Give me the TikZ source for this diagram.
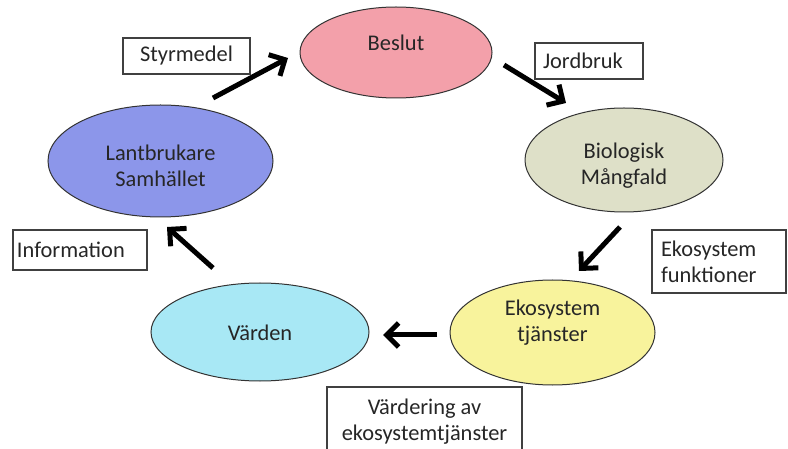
\documentclass[tikz,border=0pt]{standalone}
\usepackage{fontspec}
\setmainfont{Carlito}
\usetikzlibrary{arrows.meta,shapes.geometric}
\definecolor{pinkc}{RGB}{243,160,170}
\definecolor{bioc}{RGB}{222,224,200}
\definecolor{lantc}{RGB}{140,150,234}
\definecolor{vardc}{RGB}{168,232,245}
\definecolor{ekoc}{RGB}{248,243,156}
\begin{document}
\begin{tikzpicture}[x=1bp,y=-1bp,
  ell/.style={ellipse, draw=black!80, line width=1bp, inner sep=0pt},
  lbl/.style={font=\fontsize{22.5}{26}\selectfont, align=center, text=black!85},
  box/.style={draw=black!75, line width=1.1bp, font=\fontsize{22.5}{26}\selectfont, inner ysep=0pt, text=black!85},
  arr/.style={line width=5bp, -{Straight Barb[length=12bp,width=24bp]}}]
\useasboundingbox (0,0) rectangle (788,449);

% ellipses
\node[ell, fill=pinkc, minimum width=192bp, minimum height=91bp,
  label={[lbl,yshift=10bp]center:Beslut}] (beslut) at (396,52.5) {};
\node[ell, fill=bioc, minimum width=198bp, minimum height=104bp,
  label={[lbl,yshift=-6bp]center:Biologisk\\Mångfald}] (bio) at (624,160) {};
\node[ell, fill=lantc, minimum width=225bp, minimum height=112bp,
  label={[lbl,yshift=-5bp]center:Lantbrukare\\Samhället}] (lant) at (160.5,161) {};
\node[ell, fill=vardc, minimum width=218bp, minimum height=98bp,
  label={[lbl,yshift=-1bp]center:Värden}] (varden) at (260,332) {};
\node[ell, fill=ekoc, minimum width=205bp, minimum height=105bp,
  label={[lbl,yshift=10bp]center:Ekosystem\\tjänster}] (eko) at (552.5,332.5) {};

% boxes
\node[box, minimum width=127bp, minimum height=36bp] (styr) at (186.5,56) {Styrmedel};
\node[box, minimum height=36bp, text width=92bp, inner xsep=8bp, align=left] (jord) at (589,61) {Jordbruk};
\node[box, minimum height=40bp, text width=126bp, inner xsep=4bp, align=left] (info) at (80,250) {Information};
\node[box, minimum height=63bp, text width=116bp, inner xsep=9bp, align=left] (ekof) at (719,261.5) {Ekosystem\\funktioner};
\node[box, minimum width=195bp, minimum height=69bp, align=center] (vard) at (424.5,421.5) {Värdering av\\ekosystemtjänster};

% arrows
\coordinate (a1s) at (213,98);  \coordinate (a1e) at (288,58);
\coordinate (a2s) at (504,65);  \coordinate (a2e) at (566,103);
\coordinate (a3s) at (620,227); \coordinate (a3e) at (579,271);
\coordinate (a4s) at (437,335); \coordinate (a4e) at (383,335);
\coordinate (a5s) at (213,268); \coordinate (a5e) at (167,227);
\draw[arr] (a1s) -- (a1e);
\draw[arr] (a2s) -- (a2e);
\draw[arr] (a3s) -- (a3e);
\draw[arr] (a4s) -- (a4e);
\draw[arr] (a5s) -- (a5e);
\end{tikzpicture}
\end{document}
